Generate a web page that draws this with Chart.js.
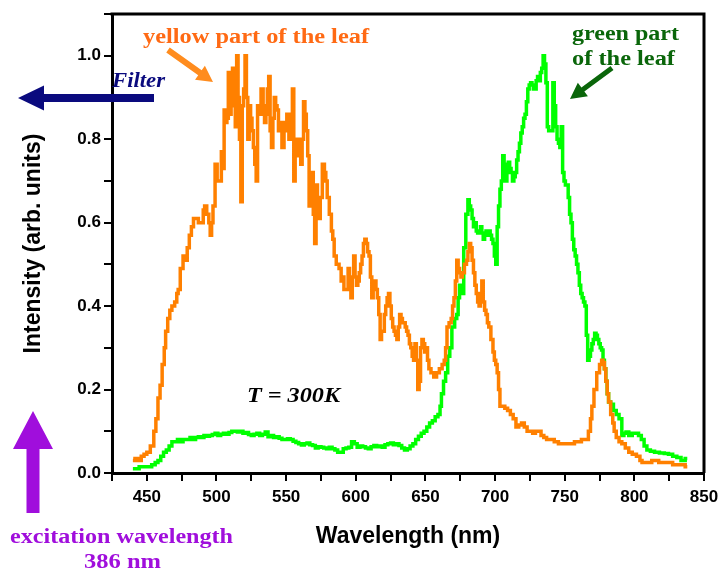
<!DOCTYPE html>
<html>
<head>
<meta charset="utf-8">
<script src="https://cdn.jsdelivr.net/npm/chart.js@4.4.1/dist/chart.umd.min.js"></script>
<style>
  html, body { margin: 0; padding: 0; background: #fff; }
  #wrap { width: 721px; height: 572px; position: relative; }
</style>
</head>
<body>
<div id="wrap"><canvas id="c" width="721" height="572"></canvas></div>
<script>
// ---- data ----
const yellowNm = [440,443,445,447,449,451,454,456,457,459,460,462,463,464,466,467,469,471,472,473,475,477,478,480,481,483,484,486,488,490,491,492,494,495,496,497,498,500,501,503,504,505,506,507,508,509,510,511,512,513,514,515,516,517,518,519,520,521,522,523,524,525,526,527,528,529,530,531,533,534,535,536,537,538,539,540,541,542,543,544,545,546,548,549,550,551,553,554,555,556,557,559,560,561,562,563,564,565,566,567,568,569,570,571,572,573,574,575,577,578,579,580,582,583,584,585,587,589,590,591,592,594,595,596,597,598,599,600,601,602,603,604,605,606,607,608,609,610,611,612,613,614,615,616,617,618,619,620,621,622,623,624,625,626,627,628,629,630,631,632,633,634,635,636,637,638,639,640,641,642,643,644,645,646,647,648,649,650,651,652,653,655,657,659,661,663,664,665,666,668,669,670,671,672,673,674,675,676,677,679,680,681,682,683,684,685,686,687,688,689,690,691,692,693,694,695,696,698,699,700,701,702,703,704,706,708,710,712,714,716,718,720,722,724,726,728,730,732,734,736,738,741,744,747,750,753,756,758,761,763,766,768,769,770,772,774,776,777,778,779,780,781,782,784,785,786,788,790,792,795,797,800,803,805,806,810,815,820,825,830,835,838];
const yellowInt = [0.03,0.035,0.03,0.04,0.045,0.05,0.065,0.10,0.13,0.18,0.21,0.26,0.30,0.34,0.37,0.39,0.40,0.41,0.43,0.44,0.49,0.52,0.51,0.54,0.57,0.59,0.61,0.61,0.60,0.60,0.63,0.64,0.62,0.60,0.57,0.60,0.64,0.74,0.70,0.70,0.77,0.73,0.87,0.84,0.85,0.96,0.86,0.88,0.97,0.90,0.83,1.00,0.90,0.80,0.65,0.88,0.92,1.00,0.90,0.80,0.88,0.85,0.82,0.78,0.74,0.70,0.88,0.86,0.92,0.88,0.84,0.86,0.92,0.95,0.82,0.78,0.85,0.90,0.88,0.87,0.82,0.84,0.78,0.84,0.82,0.86,0.80,0.85,0.92,0.70,0.76,0.80,0.78,0.74,0.80,0.89,0.86,0.82,0.76,0.64,0.70,0.72,0.62,0.55,0.69,0.66,0.61,0.66,0.74,0.72,0.70,0.66,0.62,0.58,0.56,0.52,0.50,0.49,0.46,0.47,0.44,0.44,0.49,0.45,0.42,0.47,0.52,0.47,0.45,0.46,0.48,0.50,0.52,0.55,0.56,0.55,0.53,0.52,0.47,0.42,0.45,0.46,0.44,0.42,0.38,0.32,0.34,0.34,0.38,0.40,0.42,0.43,0.40,0.37,0.35,0.34,0.33,0.32,0.35,0.38,0.37,0.36,0.36,0.35,0.34,0.33,0.31,0.30,0.28,0.27,0.31,0.27,0.20,0.22,0.30,0.32,0.31,0.29,0.30,0.27,0.25,0.24,0.23,0.24,0.25,0.26,0.27,0.30,0.35,0.36,0.37,0.40,0.42,0.46,0.51,0.49,0.48,0.47,0.48,0.50,0.51,0.53,0.55,0.54,0.51,0.48,0.45,0.43,0.41,0.40,0.43,0.46,0.41,0.39,0.38,0.36,0.35,0.32,0.29,0.27,0.26,0.24,0.20,0.16,0.16,0.155,0.15,0.14,0.13,0.11,0.115,0.12,0.11,0.10,0.10,0.095,0.10,0.10,0.09,0.085,0.08,0.08,0.075,0.07,0.07,0.07,0.07,0.075,0.075,0.08,0.08,0.10,0.13,0.16,0.20,0.24,0.26,0.27,0.265,0.25,0.22,0.19,0.17,0.14,0.12,0.10,0.085,0.075,0.07,0.06,0.05,0.045,0.04,0.03,0.025,0.025,0.03,0.025,0.025,0.02,0.02,0.015];

const greenNm = [440,443,446,449,452,455,457,459,461,463,465,467,469,471,473,475,477,480,482,484,486,488,490,492,494,496,498,500,502,504,506,508,510,512,514,516,518,520,522,524,526,528,530,532,534,536,538,540,542,544,546,548,550,552,554,556,558,560,562,564,566,568,570,572,574,576,578,580,582,584,586,588,590,592,594,596,598,600,602,604,606,608,610,612,614,616,618,620,622,624,626,628,630,632,634,636,638,640,642,644,646,648,650,652,654,656,658,660,661,662,664,665,667,668,670,672,673,674,675,676,677,678,680,681,682,683,684,685,686,687,688,689,690,691,692,693,694,695,696,697,698,699,700,701,702,703,704,705,706,707,708,709,710,711,712,713,714,715,716,717,718,719,720,721,722,723,724,725,726,727,728,729,730,731,732,733,734,735,736,737,738,739,740,741,742,743,744,745,746,747,748,749,750,751,752,753,754,755,756,757,758,759,760,761,762,763,764,765,766,767,768,769,770,771,772,773,774,775,776,777,778,779,780,781,782,784,786,788,790,792,793,795,797,800,802,804,806,808,810,813,816,820,823,826,829,832,835,838];
const greenInt = [0.01,0.01,0.015,0.015,0.015,0.02,0.025,0.03,0.04,0.05,0.055,0.065,0.075,0.075,0.08,0.075,0.08,0.08,0.085,0.08,0.085,0.087,0.085,0.09,0.088,0.09,0.092,0.095,0.09,0.093,0.095,0.093,0.097,0.10,0.10,0.098,0.10,0.095,0.097,0.092,0.09,0.093,0.095,0.09,0.093,0.098,0.087,0.09,0.085,0.087,0.083,0.08,0.08,0.082,0.08,0.076,0.073,0.07,0.067,0.07,0.072,0.068,0.066,0.06,0.063,0.062,0.06,0.058,0.062,0.058,0.055,0.05,0.05,0.058,0.06,0.062,0.075,0.07,0.062,0.065,0.063,0.06,0.058,0.063,0.066,0.063,0.065,0.062,0.068,0.07,0.072,0.068,0.07,0.066,0.06,0.055,0.058,0.065,0.07,0.08,0.088,0.095,0.10,0.11,0.12,0.125,0.135,0.14,0.16,0.19,0.22,0.24,0.28,0.30,0.35,0.37,0.38,0.42,0.45,0.44,0.43,0.54,0.62,0.655,0.64,0.63,0.61,0.59,0.60,0.58,0.575,0.58,0.59,0.575,0.56,0.57,0.58,0.57,0.58,0.57,0.56,0.55,0.52,0.50,0.59,0.64,0.68,0.70,0.76,0.74,0.70,0.72,0.745,0.73,0.72,0.70,0.71,0.72,0.75,0.77,0.79,0.815,0.83,0.85,0.86,0.89,0.92,0.93,0.935,0.93,0.92,0.92,0.94,0.95,0.94,0.96,0.97,1.00,0.98,0.935,0.83,0.82,0.82,0.82,0.935,0.88,0.83,0.80,0.79,0.78,0.83,0.72,0.70,0.69,0.69,0.66,0.62,0.60,0.56,0.535,0.52,0.50,0.48,0.45,0.43,0.42,0.41,0.40,0.33,0.27,0.28,0.295,0.31,0.32,0.335,0.33,0.32,0.31,0.30,0.295,0.27,0.25,0.22,0.19,0.17,0.165,0.15,0.14,0.13,0.09,0.095,0.098,0.09,0.095,0.095,0.09,0.08,0.065,0.055,0.052,0.05,0.048,0.047,0.045,0.04,0.037,0.03,0.035];

const xLabelTicks = [450,500,550,600,650,700,750,800,850];
const yLabelTicks = [0.0,0.2,0.4,0.6,0.8,1.0];

// ---- chart ----
const sansBold = { family: "'Liberation Sans', Arial, sans-serif", weight: 'bold' };

const framePlugin = {
  id: 'frame',
  afterDatasetsDraw(chart) {
    const { ctx, chartArea: a } = chart;
    ctx.save();
    ctx.strokeStyle = '#000';
    ctx.lineWidth = 3;
    ctx.beginPath();
    ctx.moveTo(a.left - 1.5, a.top);
    ctx.lineTo(a.right, a.top);
    ctx.lineTo(a.right, a.bottom);
    ctx.stroke();
    ctx.restore();
  }
};

function arrow(ctx, x1, y1, x2, y2, shaftW, headLen, headW, color) {
  const ang = Math.atan2(y2 - y1, x2 - x1);
  const len = Math.hypot(x2 - x1, y2 - y1);
  ctx.save();
  ctx.translate(x1, y1);
  ctx.rotate(ang);
  ctx.fillStyle = color;
  ctx.beginPath();
  ctx.moveTo(0, -shaftW / 2);
  ctx.lineTo(len - headLen, -shaftW / 2);
  ctx.lineTo(len - headLen, -headW / 2);
  ctx.lineTo(len, 0);
  ctx.lineTo(len - headLen, headW / 2);
  ctx.lineTo(len - headLen, shaftW / 2);
  ctx.lineTo(0, shaftW / 2);
  ctx.closePath();
  ctx.fill();
  ctx.restore();
}

function label(ctx, text, font, color, left, baseline, width) {
  ctx.save();
  ctx.font = font;
  const w = ctx.measureText(text).width;
  ctx.translate(left, baseline);
  ctx.scale(width / w, 1);
  ctx.fillStyle = color;
  ctx.textAlign = 'left';
  ctx.textBaseline = 'alphabetic';
  ctx.fillText(text, 0, 0);
  ctx.restore();
}

const serif = "'Liberation Serif', 'Times New Roman', serif";
const notesPlugin = {
  id: 'notes',
  afterDraw(chart) {
    const ctx = chart.ctx;
    // arrows
    arrow(ctx, 168, 50, 213, 82, 6, 16, 17, '#FF8C1E');
    arrow(ctx, 154, 98, 18, 98, 8, 26, 25, '#0A0A7E');
    arrow(ctx, 612, 68, 570, 99, 5, 16, 17, '#0A660A');
    arrow(ctx, 33, 513, 33, 411, 13, 38, 40, '#A00EDC');
    // texts
    label(ctx, 'yellow part of the leaf', 'bold 20px ' + serif, '#FF6A14', 143, 43, 226);
    label(ctx, 'Filter', 'italic bold 21px ' + serif, '#0A0A7E', 112, 87, 53);
    label(ctx, 'green part', 'bold 20px ' + serif, '#0A660A', 572, 40, 107);
    label(ctx, 'of the leaf', 'bold 20px ' + serif, '#0A660A', 572, 65, 103);
    label(ctx, 'T = 300K', 'italic bold 22px ' + serif, '#000', 247, 402, 93);
    label(ctx, 'excitation wavelength', 'bold 20px ' + serif, '#A00EDC', 10, 543, 223);
    label(ctx, '386 nm', 'bold 20px ' + serif, '#A00EDC', 84, 568, 77);
  }
};

const toPts = (xs, ys) => xs.map((x, i) => ({ x: x, y: ys[i] }));

new Chart(document.getElementById('c'), {
  type: 'line',
  data: {
    datasets: [
      { label: 'yellow part of the leaf', data: toPts(yellowNm, yellowInt), borderColor: '#FF8000', borderWidth: 3.5, pointRadius: 0, stepped: 'middle', fill: false },
      { label: 'green part of the leaf', data: toPts(greenNm, greenInt), borderColor: '#00FF00', borderWidth: 3.5, pointRadius: 0, stepped: 'middle', fill: false }
    ]
  },
  options: {
    responsive: false,
    animation: false,
    devicePixelRatio: 1,
    parsing: false,
    layout: { padding: { left: 0, right: 17, top: 14, bottom: 0 } },
    plugins: { legend: { display: false }, tooltip: { enabled: false } },
    scales: {
      x: {
        type: 'linear', min: 425, max: 850,
        ticks: {
          stepSize: 25, autoSkip: false, maxRotation: 0, color: '#000', padding: 6,
          font: Object.assign({ size: 17 }, sansBold),
          callback: v => xLabelTicks.includes(Math.round(v)) ? String(Math.round(v)) : ''
        },
        grid: { drawOnChartArea: false, drawTicks: true, tickLength: 8, color: '#000', lineWidth: 2 },
        border: { display: true, color: '#000', width: 3 },
        title: { display: true, text: 'Wavelength (nm)', color: '#000', font: Object.assign({ size: 23 }, sansBold), padding: { top: 0, bottom: 22 } },
        afterFit(s) { s.height = 99; s.paddingLeft = 0; s.paddingRight = 0; }
      },
      y: {
        type: 'linear', min: 0, max: 1.1,
        ticks: {
          stepSize: 0.1, autoSkip: false, color: '#000', padding: 3,
          font: Object.assign({ size: 17 }, sansBold),
          callback: v => { const r = Math.round(v * 10) / 10; return yLabelTicks.includes(r) ? r.toFixed(1) : ''; }
        },
        grid: { drawOnChartArea: false, drawTicks: true, tickLength: 8, color: '#000', lineWidth: 2 },
        border: { display: true, color: '#000', width: 3 },
        title: { display: true, text: 'Intensity (arb. units)', color: '#000', font: Object.assign({ size: 23 }, sansBold), padding: { top: 20, bottom: 0 } },
        afterFit(s) { s.width = 112; s.paddingTop = 0; s.paddingBottom = 0; }
      }
    }
  },
  plugins: [framePlugin, notesPlugin]
});
</script>
</body>
</html>
